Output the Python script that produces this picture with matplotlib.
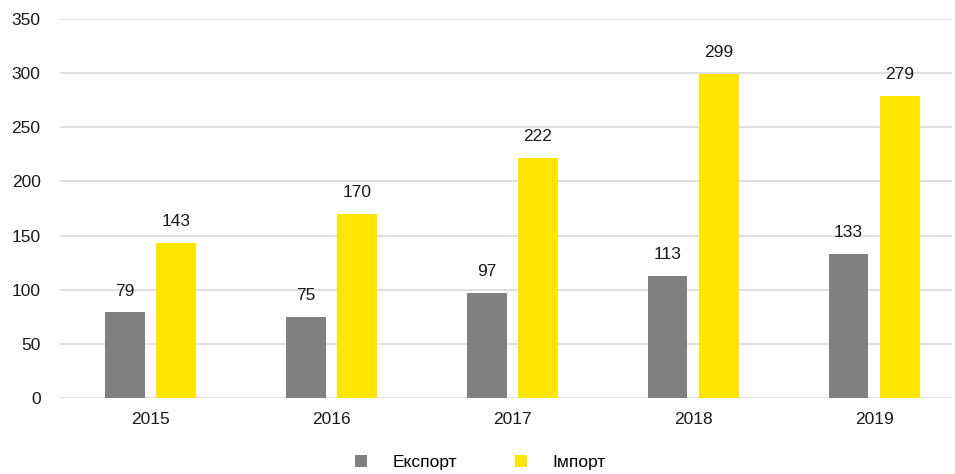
import numpy as np
import matplotlib.pyplot as plt

plt.rcParams['font.family'] = ['Liberation Sans', 'DejaVu Sans']

years = ['2015', '2016', '2017', '2018', '2019']
export_vals = [79, 75, 97, 113, 133]
import_vals = [143, 170, 222, 299, 279]

fig = plt.figure(figsize=(9.55, 4.74), dpi=100)
ax = fig.add_axes([60 / 955, 76 / 474, 892 / 955, 379 / 474])

x = np.arange(len(years))
w = 0.22
off = 0.142
b1 = ax.bar(x - off, export_vals, w, color='#808080', label='Експорт', zorder=3)
b2 = ax.bar(x + off, import_vals, w, color='#FFE600', label='Імпорт', zorder=3)

for bars in (b1, b2):
    for r in bars:
        ax.annotate(f'{int(r.get_height())}', (r.get_x() + r.get_width() / 2, r.get_height()),
                    xytext=(0, 10), textcoords='offset points', ha='center', va='bottom',
                    fontsize=12.5, color='#1a1a1a')

ax.set_ylim(0, 350)
ax.set_xlim(-0.5, 4.43)
ax.set_yticks(range(0, 351, 50))
ax.set_xticks(x)
ax.set_xticklabels(years)
ax.yaxis.grid(True, color='#d9d9d9', linewidth=1.2, zorder=0)
ax.set_axisbelow(True)
for s in ax.spines.values():
    s.set_visible(False)
ax.tick_params(axis='both', length=0, labelsize=12.5, colors='#1a1a1a')
ax.tick_params(axis='y', pad=14)
ax.tick_params(axis='x', pad=10)

fig.legend(handles=[b1, b2], loc='center', bbox_to_anchor=(0.503, 0.024), ncol=2,
           frameon=False, fontsize=12.5, handlelength=0.7, handleheight=0.7,
           columnspacing=3.3, handletextpad=1.5)

fig.savefig('out.png', dpi=100)
